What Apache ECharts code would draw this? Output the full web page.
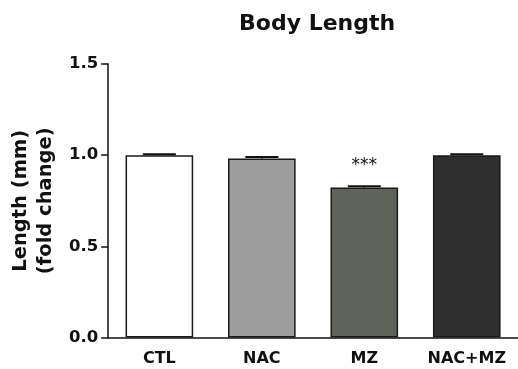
<!DOCTYPE html>
<html>
<head>
<meta charset="utf-8">
<script src="https://cdn.jsdelivr.net/npm/echarts@6/dist/echarts.min.js"></script>
<style>html,body{margin:0;padding:0;background:#fff;}#c{width:518px;height:369px;}</style>
</head>
<body>
<div id="c"></div>
<script>
var categories = ['CTL', 'NAC', 'MZ', 'NAC+MZ'];
var values = [1.0, 0.982, 0.822, 1.0];
var errors = [0.005, 0.008, 0.008, 0.005];
var significance = ['', '', '***', ''];
var barColors = ['#ffffff', '#9d9d9d', '#60635a', '#2f2f2f'];
var yTicks = [0, 0.5, 1.0, 1.5];

var chart = echarts.init(document.getElementById('c'), null, {renderer: 'canvas'});
var font = 'DejaVu Sans, sans-serif';
chart.setOption({
  animation: false,
  title: {
    text: 'Body Length', left: 234, top: 8,
    textStyle: {fontFamily: font, fontWeight: 'bold', fontSize: 22, color: '#111'}
  },
  grid: {left: 107, top: 64, width: 413, height: 273.5, containLabel: false},
  xAxis: {
    type: 'category', data: categories,
    axisLine: {lineStyle: {color: '#111', width: 1.5}},
    axisTick: {alignWithLabel: true, length: 7, lineStyle: {color: '#111', width: 1.5}},
    axisLabel: {fontFamily: font, fontWeight: 'bold', fontSize: 16, color: '#111', margin: 13}
  },
  yAxis: {
    type: 'value', min: yTicks[0], max: yTicks[yTicks.length - 1], interval: 0.5,
    name: 'Length (mm)\n(fold change)', nameLocation: 'middle', nameGap: 46, nameRotate: 90,
    nameTextStyle: {fontFamily: font, fontWeight: 'bold', fontSize: 19.5, color: '#111', lineHeight: 25},
    axisLine: {show: true, lineStyle: {color: '#111', width: 1.5}},
    axisTick: {show: true, length: 7, lineStyle: {color: '#111', width: 1.5}},
    splitLine: {show: false},
    axisLabel: {fontFamily: font, fontWeight: 'bold', fontSize: 16.5, color: '#111', margin: 10,
      formatter: function (v) { return v.toFixed(1); }}
  },
  series: [{
    type: 'bar', barWidth: '66%',
    data: values.map(function (v, i) {
      return {value: v, itemStyle: {color: barColors[i]}};
    }),
    itemStyle: {borderColor: '#1a1a1a', borderWidth: 1.5},
    label: {show: true, position: 'top', distance: 14,
      formatter: function (p) { return significance[p.dataIndex]; },
      fontFamily: font, fontSize: 17, color: '#111'}
  }, {
    type: 'custom',
    data: values.map(function (v, i) { return [i, v, errors[i]]; }),
    renderItem: function (params, api) {
      var x = api.value(0), v = api.value(1), e = api.value(2);
      var top = api.coord([x, v + e]);
      var base = api.coord([x, v]);
      var hw = 16.5;
      return {type: 'group', children: [
        {type: 'line', shape: {x1: top[0], y1: top[1], x2: top[0], y2: base[1]}, style: {stroke: '#111', lineWidth: 1.5}},
        {type: 'line', shape: {x1: top[0] - hw, y1: top[1], x2: top[0] + hw, y2: top[1]}, style: {stroke: '#111', lineWidth: 2}}
      ]};
    },
    z: 5
  }]
});
</script>
</body>
</html>
